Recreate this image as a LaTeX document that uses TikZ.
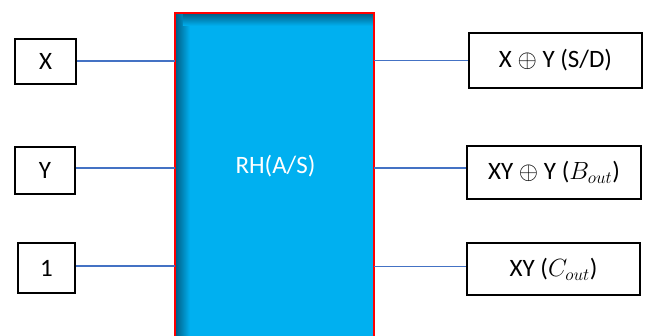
\documentclass[tikz,border=0pt]{standalone}
\usepackage{fontspec}
\setmainfont{Carlito}
\usetikzlibrary{positioning}
\definecolor{mainblue}{HTML}{00B0F0}
\definecolor{shadowblue}{HTML}{005A80}
\definecolor{wireblue}{HTML}{4472C4}
\begin{document}
\begin{tikzpicture}[x=1pt,y=-1pt,
  iobox/.style={draw=black,line width=1.6pt,fill=white,inner sep=0pt,font=\fontsize{25}{30}\selectfont},
  wire/.style={draw=wireblue,line width=1.8pt}]
\useasboundingbox (0,0) rectangle (646,336);
\clip (0,0) rectangle (646,336);
% main block
\node[draw=none,fill=mainblue,minimum width=199pt,minimum height=340pt,inner sep=0pt] (M) at (274.5,183) {};
\shade[left color=shadowblue,right color=mainblue] (M.north west) rectangle ([xshift=15pt]M.south west);
\shade[top color=shadowblue,bottom color=mainblue] ([xshift=8pt]M.north west) rectangle ([yshift=-13pt]M.north east);
\draw[red,line width=2.2pt] (M.south west) -- (M.north west) -- (M.north east) -- (M.south east);
\node[text=white,font=\fontsize{25}{30}\selectfont] (L) at (275.5,166) {RH(A/S)};
% inputs
\node[iobox,minimum width=61pt,minimum height=45pt] (X) at (45.5,61.5) {X};
\node[iobox,minimum width=60pt,minimum height=47pt] (Y) at (45,170.5) {Y};
\node[iobox,minimum width=57pt,minimum height=50pt] (One) at (46.5,268) {1};
% outputs
\node[iobox,minimum width=173pt,minimum height=55pt] (S) at (555.5,60.5) {X $\oplus$ Y (S/D)};
\node[iobox,minimum width=174pt,minimum height=53pt] (B) at (554,172.5) {XY $\oplus$ Y ($B_{out}$)};
\node[iobox,minimum width=173pt,minimum height=52pt] (C) at (553.5,269) {XY ($C_{out}$)};
% wires
\coordinate (xi) at (X.east |- 0,61);
\coordinate (yi) at (Y.east |- 0,168);
\coordinate (oi) at (One.east |- 0,266);
\draw[wire] (xi) -- (xi -| M.west);
\draw[wire] (yi) -- (yi -| M.west);
\draw[wire] (oi) -- (oi -| M.west);
\coordinate (so) at (S.west |- 0,60.5);
\coordinate (bo) at (B.west |- 0,168);
\coordinate (co) at (C.west |- 0,266.5);
\draw[wire] (so -| M.east) -- (so);
\draw[wire] (bo -| M.east) -- (bo);
\draw[wire] (co -| M.east) -- (co);
\end{tikzpicture}
\end{document}
